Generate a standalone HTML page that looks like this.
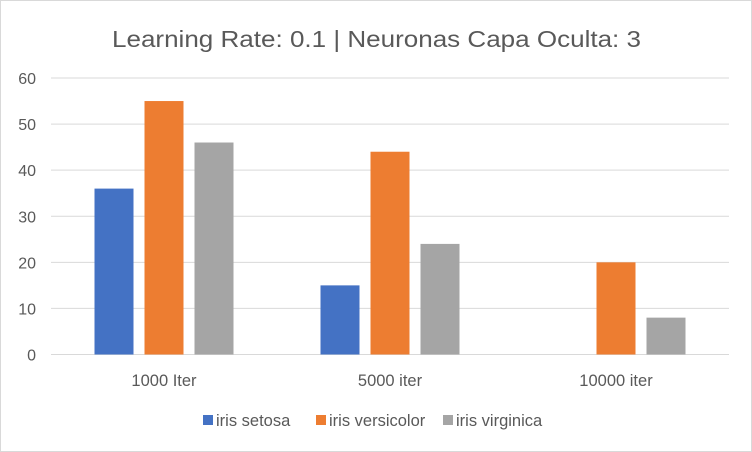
<!DOCTYPE html>
<html><head><meta charset="utf-8"><style>
body{margin:0;background:#fff;}
svg{display:block;font-family:"Liberation Sans",sans-serif;}
</style></head><body>
<svg width="752" height="452">
<rect x="0.5" y="0.5" width="751" height="451" fill="#fff" stroke="#d9d9d9"/>
<text x="112" y="47" textLength="529" lengthAdjust="spacingAndGlyphs" font-size="23" fill="#595959">Learning Rate: 0.1 | Neuronas Capa Oculta: 3</text>
<g id="grid"></g><g id="bars"></g><g id="xl"></g><g id="legend"></g>
</svg>
<script>
const categories=["1000 Iter","5000 iter","10000 iter"];
const setosa=[36,15,0];
const versicolor=[55,44,20];
const virginica=[46,24,8];
const yTicks=[0,10,20,30,40,50,60];
const seriesNames=["iris setosa","iris versicolor","iris virginica"];
const colors=["#4472c4","#ed7d31","#a5a5a5"];
const NS="http://www.w3.org/2000/svg";
const x0=51,x1=729,y0=354.5,yTop=78;
const y=v=>y0-(v/60)*(y0-yTop);
const gw=(x1-x0)/categories.length;
function mk(t,a,p){const e=document.createElementNS(NS,t);for(const k in a)e.setAttribute(k,a[k]);p.appendChild(e);return e;}
const grid=document.getElementById('grid');
yTicks.forEach(v=>{
 const l=mk('line',{x1:x0,x2:x1,y1:y(v),y2:y(v),stroke:'#d9d9d9','stroke-width':1},grid);
 
 
 const t=mk('text',{x:36,y:y(v)+6,'text-anchor':'end','font-size':16,fill:'#595959'},grid);
 t.textContent=v;
 
 
});
const series=[setosa,versicolor,virginica];
const bw=39,gap=11;
const bars=document.getElementById('bars');
categories.forEach((c,i)=>{
 const cx=x0+gw*(i+0.5);
 series.forEach((s,j)=>{
  const bx=cx+(j-1)*(bw+gap)-bw/2;
  const r=mk('rect',{x:bx,y:y(s[i]),width:bw,height:y0-y(s[i]),fill:colors[j]},bars);
  
  
 });
 const t=mk('text',{x:cx,y:386,'text-anchor':'middle','font-size':16.5,fill:'#595959'},document.getElementById('xl'));
 t.textContent=c;
 
 
});
const lg=document.getElementById('legend');
const lx=[203,316,443];
seriesNames.forEach((n,j)=>{
 const g=mk('g',{},lg);
 
 
 mk('rect',{x:lx[j],y:415,width:10,height:10,fill:colors[j]},g);
 const t=mk('text',{x:lx[j]+13,y:426,'font-size':16.5,fill:'#595959'},g);
 t.textContent=n;
});
</script>
</body></html>
